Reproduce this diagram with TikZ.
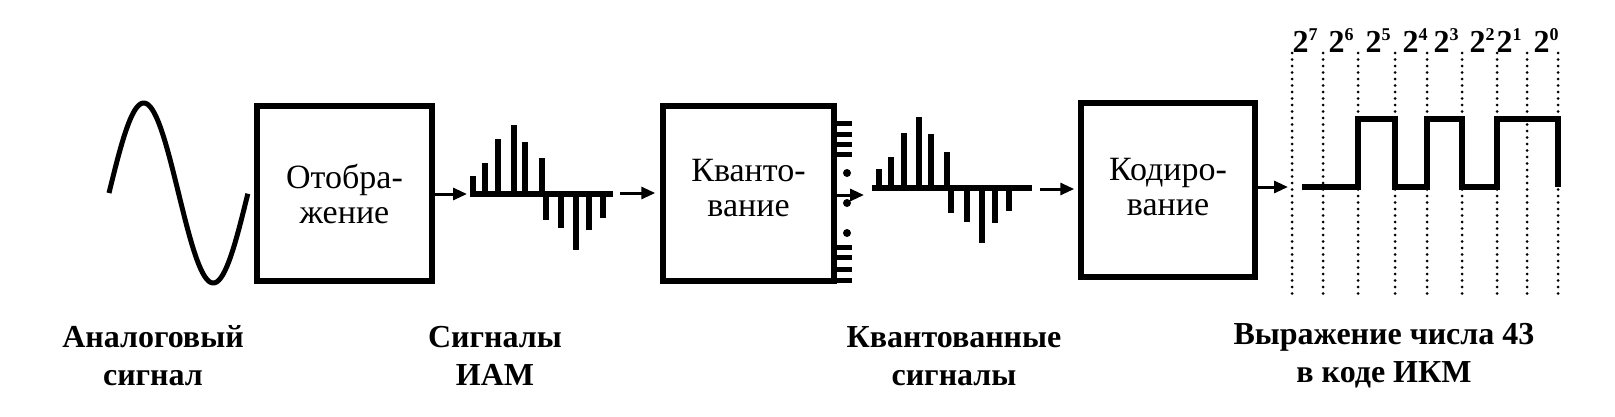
\documentclass[tikz,border=0pt]{standalone}
\usepackage{fontspec}
\setmainfont{Liberation Serif}
\usetikzlibrary{arrows.meta}
\newcommand\pwr[1]{2\raisebox{12pt}{\fontsize{18}{18}\selectfont #1}}
\begin{document}
\begin{tikzpicture}[x=1pt,y=-1pt,
  blk/.style={draw, line width=5.5pt, inner sep=0pt},
  btxt/.style={align=center, inner sep=0pt, font=\fontsize{34}{35}\selectfont},
  arr/.style={line width=3pt, -{Triangle[length=14pt,width=12pt]}},
  bar/.style={line width=6pt},
  lab/.style={align=center, font=\bfseries\fontsize{32}{38}\selectfont},
  pw/.style={anchor=base, font=\bfseries\fontsize{32}{32}\selectfont, inner sep=0pt},
  dots/.style={line width=3pt, line cap=round, dash pattern=on 0pt off 6.5pt},
  wave/.style={line width=6pt, line join=miter},
  sig/.style={line width=5pt},
]
\fill[white] (0,0) rectangle (1615,416);
\useasboundingbox (0,0) rectangle (1615,416);

% analog signal
\draw[sig] plot[domain=0:1, samples=120, smooth] ({109+139*\x},{193-90*sin(360*\x)});

% boxes
\node[blk, minimum width=175pt, minimum height=175pt] (b1) at (344.5,193.5) {};
\node[blk, minimum width=171pt, minimum height=175pt] (b2) at (748.5,193.5) {};
\node[blk, minimum width=174pt, minimum height=174pt] (b3) at (1168,190) {};
\node[btxt] (t1) at (b1.center) {Отобра-\\жение};
\node[btxt] (t2) at ([yshift=5pt]b2.center) {Кванто-\\вание};
\node[btxt] (t3) at ([yshift=3pt]b3.center) {Кодиро-\\вание};

% connector points
\coordinate (p1s) at (467,194);
\coordinate (p1e) at (620,193);
\coordinate (p2s) at (864,195);
\coordinate (p2e) at (1040,189);
\coordinate (pcm) at (1288,187);

% arrows
\draw[arr] (b1.east |- p1s) -- (p1s);
\draw[arr, shorten >=5pt] (p1e) -- (b2.west |- p1e);
\draw[arr] (b2.east |- p2s) -- (p2s);
\draw[arr, shorten >=4pt] (p2e) -- (b3.west |- p2e);
\draw[arr] (b3.east |- pcm) -- (pcm);

% PAM pulses
\draw[bar] (470,194) -- (613,194);
\foreach \x/\t in {473/176, 485/163, 498/139, 514/125, 525/142, 542/158}
  \draw[bar] (\x,194) -- (\x,\t);
\foreach \x/\b in {546/220, 561/228, 576/250, 589/230, 603/218}
  \draw[bar] (\x,194) -- (\x,\b);

% quantizer comb
\foreach \y in {123,134,144,154,247,257,269,280}
  \draw[line width=5pt] (834,\y) -- (852,\y);
\foreach \y in {173,203,233}
  \fill (847,\y) circle (4pt);

% quantized pulses
\draw[bar] (872,188) -- (1032,188);
\foreach \x/\t in {879/169, 891/157, 904/133, 919/117, 931/134, 947/152}
  \draw[bar] (\x,188) -- (\x,\t);
\foreach \x/\b in {951/213, 967/222, 982/243, 995/223, 1009/211}
  \draw[bar] (\x,188) -- (\x,\b);

% dotted grid
\foreach \x in {1292,1323,1358,1395,1427,1462,1497,1527,1558}
  \draw[dots] (\x,53) -- (\x,295);

% PCM waveform (43 = 00101011)
\draw[wave] (1302,187) -- (1358,187) -- (1358,119) -- (1395,119) -- (1395,187)
  -- (1427,187) -- (1427,119) -- (1462,119) -- (1462,187) -- (1497,187)
  -- (1497,119) -- (1558,119) -- (1558,187);

% weights
\node[pw] (w7) at (1305,52) {\pwr{7}};
\node[pw] (w6) at (1341,52) {\pwr{6}};
\node[pw] (w5) at (1378,52) {\pwr{5}};
\node[pw] (w4) at (1415,52) {\pwr{4}};
\node[pw] (w3) at (1446,52) {\pwr{3}};
\node[pw] (w2) at (1482,52) {\pwr{2}};
\node[pw] (w1) at (1509,52) {\pwr{1}};
\node[pw] (w0) at (1546,52) {\pwr{0}};

% captions
\node[lab] (l1) at (153,356) {Аналоговый\\сигнал};
\node[lab] (l2) at (495,356) {Сигналы\\ИАМ};
\node[lab] (l3) at (954,356) {Квантованные\\сигналы};
\node[lab] (l4) at (1384,356) {Выражение числа 43\\в коде ИКМ};
\end{tikzpicture}
\end{document}
